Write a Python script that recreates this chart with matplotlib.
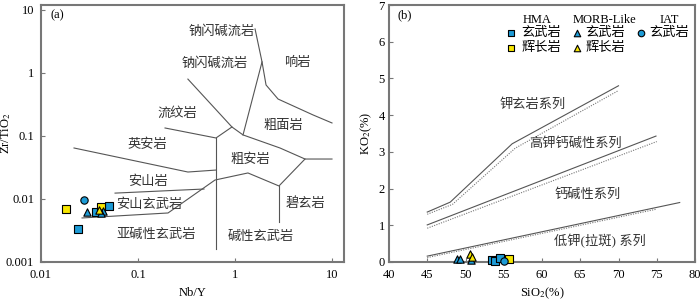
"""
    Diagramas Zr/TiO2 - Nb/Y e K2O - SiO2
"""

import matplotlib
matplotlib.use("Agg")
from matplotlib import pyplot as plt

plt.rcParams["font.family"] = ["Liberation Serif", "Noto Sans CJK SC"]
plt.rcParams["mathtext.fontset"] = "stix"

# cores dos símbolos
azul = "#1d9bd6"
amarelo = "#f7e600"
cinza = "#777777"

# ---------------- dados painel (a) ----------------
# HMA 玄武岩 (quadrado azul)
a_hma_bas_x = [0.0241, 0.0369, 0.0502]
a_hma_bas_y = [0.0033, 0.0062, 0.0077]
# HMA 辉长岩 (quadrado amarelo)
a_hma_gab_x = [0.0181, 0.0415]
a_hma_gab_y = [0.0069, 0.0075]
# MORB-Like 玄武岩 (triângulo azul)
a_morb_bas_x = [0.0298, 0.0436, 0.0415]
a_morb_bas_y = [0.0062, 0.0065, 0.0060]
# MORB-Like 辉长岩 (triângulo amarelo)
a_morb_gab_x = [0.0396]
a_morb_gab_y = [0.0067]
# IAT 玄武岩 (círculo azul)
a_iat_bas_x = [0.0277]
a_iat_bas_y = [0.0096]

# linhas de fronteira (Nb/Y, Zr/TiO2)
fronteiras_a = [
    ([0.327, 0.93, 1.21, 2.91, 5.27, 10.0], [0.80, 0.139, 0.104, 0.0645, 0.0431, 0.0431]),
    ([1.61, 1.90, 2.09, 2.78, 6.37, 10.0], [4.99, 1.50, 0.645, 0.386, 0.216, 0.161]),
    ([1.90, 1.21], [1.50, 0.104]),
    ([0.19, 0.637, 0.93], [0.134, 0.093, 0.139]),
    ([0.637, 0.637], [0.093, 0.0016]),
    ([0.0219, 0.327, 0.637], [0.0645, 0.0268, 0.0288]),
    ([0.058, 0.479], [0.0124, 0.0144]),
    ([0.0265, 0.204, 0.622, 1.36, 2.84, 5.27], [0.0050, 0.0060, 0.020, 0.0259, 0.0161, 0.0431]),
    ([2.84, 2.84], [0.0161, 0.0043]),
]

# nomes dos campos (texto, Nb/Y, Zr/TiO2)
campos_a = [
    ("钠闪碱流岩", 0.734, 4.48),
    ("钠闪碱流岩", 0.622, 1.39),
    ("响岩", 4.36, 1.44),
    ("流纹岩", 0.252, 0.232),
    ("粗面岩", 3.12, 0.144),
    ("英安岩", 0.124, 0.072),
    ("粗安岩", 1.43, 0.0416),
    ("安山岩", 0.127, 0.0186),
    ("安山玄武岩", 0.130, 0.0080),
    ("碧玄岩", 5.39, 0.0083),
    ("亚碱性玄武岩", 0.153, 0.0027),
    ("碱性玄武岩", 1.85, 0.0025),
]

# ---------------- dados painel (b) ----------------
b_hma_bas_x = [53.4, 53.9, 54.45]
b_hma_bas_y = [0.05, 0.03, 0.12]
b_hma_gab_x = [55.7]
b_hma_gab_y = [0.08]
b_morb_bas_x = [48.9, 49.3, 50.7]
b_morb_bas_y = [0.07, 0.07, 0.05]
b_morb_gab_x = [50.6, 50.8]
b_morb_gab_y = [0.21, 0.13]
b_iat_bas_x = [55.0]
b_iat_bas_y = [0.04]

# linhas contínuas e pontilhadas (SiO2, K2O)
linhas_b = [
    ([45, 48.0, 56.1, 70.0], [1.36, 1.63, 3.22, 4.80]),
    ([45, 74.9], [1.01, 3.43]),
    ([45, 78.0], [0.16, 1.62]),
]
pontilhadas_b = [
    ([45, 48.3, 56.5, 70.0], [1.30, 1.57, 3.10, 4.67]),
    ([45, 75.0], [0.92, 3.28]),
    ([45, 75.0], [0.12, 1.44]),
]

campos_b = [
    ("钾玄岩系列", 58.75, 4.28),
    ("高钾钙碱性系列", 64.4, 3.22),
    ("钙碱性系列", 66.0, 1.83),
    ("低钾(拉斑) 系列", 67.6, 0.57),
]

fig = plt.figure(figsize=(7.0, 2.99), dpi=100)
ax1 = fig.add_axes([41 / 700, 37 / 299, 303 / 700, 257 / 299])
ax2 = fig.add_axes([389 / 700, 37 / 299, 306 / 700, 257 / 299])

estilo = dict(edgecolors="black", linewidths=0.8, s=28, zorder=5, clip_on=False)

# ---------------- painel (a) ----------------
for xs, ys in fronteiras_a:
    ax1.plot(xs, ys, color="#555555", lw=0.8)
for nome, x, y in campos_a:
    ax1.text(x, y, nome, ha="center", va="center", fontsize=9.5, color="#333333")

ax1.scatter(a_hma_bas_x, a_hma_bas_y, marker="s", c=azul, **estilo)
ax1.scatter(a_hma_gab_x, a_hma_gab_y, marker="s", c=amarelo, **estilo)
ax1.scatter(a_morb_bas_x, a_morb_bas_y, marker="^", c=azul, **estilo)
ax1.scatter(a_morb_gab_x, a_morb_gab_y, marker="^", c=amarelo, **estilo)
ax1.scatter(a_iat_bas_x, a_iat_bas_y, marker="o", c=azul, **estilo)

ax1.set_xscale("log")
ax1.set_yscale("log")
ax1.set_xlim(0.01, 13.3)
ax1.set_ylim(0.001, 12)
ax1.set_xticks([0.01, 0.1, 1, 10])
ax1.set_xticklabels(["0.01", "0.1", "1", "10"])
ax1.set_yticks([0.001, 0.01, 0.1, 1, 10])
ax1.set_yticklabels(["0.001", "0.01", "0.1", "1", "10"])
ax1.minorticks_off()
ax1.set_xlabel("Nb/Y", fontsize=9, labelpad=4)
ax1.set_ylabel("Zr/TiO$_2$", fontsize=9)
ax1.yaxis.set_label_coords(-0.092, 0.5)
ax1.text(0.053, 0.961, "(a)", transform=ax1.transAxes, ha="center", va="center", fontsize=9)

# ---------------- painel (b) ----------------
for xs, ys in linhas_b:
    ax2.plot(xs, ys, color="#555555", lw=0.8)
for xs, ys in pontilhadas_b:
    ax2.plot(xs, ys, color="#777777", lw=0.8, ls=(0, (1, 1.2)))
for nome, x, y in campos_b:
    ax2.text(x, y, nome, ha="center", va="center", fontsize=9.5, color="#333333")

ax2.scatter(b_hma_bas_x, b_hma_bas_y, marker="s", c=azul, **estilo)
ax2.scatter(b_hma_gab_x, b_hma_gab_y, marker="s", c=amarelo, **estilo)
ax2.scatter(b_morb_bas_x, b_morb_bas_y, marker="^", c=azul, **estilo)
ax2.scatter(b_morb_gab_x, b_morb_gab_y, marker="^", c=amarelo, **estilo)
ax2.scatter(b_iat_bas_x, b_iat_bas_y, marker="o", c=azul, **estilo)

ax2.set_xlim(40, 80)
ax2.set_ylim(0, 7)
ax2.set_xticks(range(40, 81, 5))
ax2.set_yticks(range(0, 8))
ax2.set_xlabel("SiO$_2$(%)", fontsize=9, labelpad=3)
ax2.set_ylabel("KO$_2$(%)", fontsize=9)
ax2.yaxis.set_label_coords(-0.05, 0.5)
ax2.text(0.052, 0.961, "(b)", transform=ax2.transAxes, ha="center", va="center", fontsize=9)

# legenda montada à mão
leg = dict(transform=ax2.transAxes, clip_on=False, edgecolors="black", linewidths=0.8, s=22)
ax2.text(0.484, 0.942, "HMA", transform=ax2.transAxes, ha="center", va="center", fontsize=9)
ax2.text(0.703, 0.942, "MORB-Like", transform=ax2.transAxes, ha="center", va="center", fontsize=9)
ax2.text(0.915, 0.942, "IAT", transform=ax2.transAxes, ha="center", va="center", fontsize=9)
ax2.scatter([0.399], [0.891], marker="s", c=azul, **leg)
ax2.scatter([0.399], [0.833], marker="s", c=amarelo, **leg)
ax2.scatter([0.614], [0.891], marker="^", c=azul, **leg)
ax2.scatter([0.614], [0.833], marker="^", c=amarelo, **leg)
ax2.scatter([0.824], [0.891], marker="o", c=azul, **leg)
ax2.text(0.432, 0.891, "玄武岩", transform=ax2.transAxes, ha="left", va="center", fontsize=9.5)
ax2.text(0.432, 0.833, "辉长岩", transform=ax2.transAxes, ha="left", va="center", fontsize=9.5)
ax2.text(0.641, 0.891, "玄武岩", transform=ax2.transAxes, ha="left", va="center", fontsize=9.5)
ax2.text(0.641, 0.833, "辉长岩", transform=ax2.transAxes, ha="left", va="center", fontsize=9.5)
ax2.text(0.850, 0.891, "玄武岩", transform=ax2.transAxes, ha="left", va="center", fontsize=9.5)

for ax in (ax1, ax2):
    for lado in ax.spines.values():
        lado.set_color(cinza)
        lado.set_linewidth(1.5)
    ax.tick_params(direction="in", length=3, width=0.8, color=cinza, labelsize=9, pad=5)
ax2.tick_params(axis="y", pad=3)

plt.savefig("out.png", dpi=100)
